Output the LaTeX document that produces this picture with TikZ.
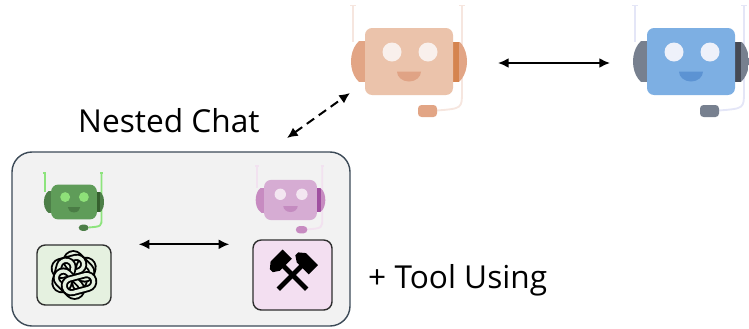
\documentclass[tikz,border=0pt]{standalone}
\usepackage{fontspec}
\setmainfont{Open Sans}
\usetikzlibrary{arrows.meta}
\usetikzlibrary{positioning}

% agent colours
\definecolor{peachHead}{HTML}{EBC3AB}
\definecolor{peachEar}{HTML}{E2A585}
\definecolor{peachStripe}{HTML}{D5844F}
\definecolor{peachEye}{HTML}{F9F0EC}
\definecolor{peachMouth}{HTML}{E0A385}
\definecolor{peachWire}{HTML}{F6E6DF}

\definecolor{azureHead}{HTML}{7DAFE3}
\definecolor{azureEar}{HTML}{77808F}
\definecolor{azureStripe}{HTML}{454A55}
\definecolor{azureEye}{HTML}{EEF1FA}
\definecolor{azureMouth}{HTML}{5C93D3}
\definecolor{azureWire}{HTML}{E4E6F7}

\definecolor{sageHead}{HTML}{5F9C59}
\definecolor{sageEar}{HTML}{4D7F48}
\definecolor{sageStripe}{HTML}{36602F}
\definecolor{sageEye}{HTML}{8EE079}
\definecolor{sageMouth}{HTML}{4A7C45}
\definecolor{sageWire}{HTML}{8DE47D}

\definecolor{lilacHead}{HTML}{D6ACD3}
\definecolor{lilacEar}{HTML}{C78BC1}
\definecolor{lilacStripe}{HTML}{A04FA0}
\definecolor{lilacEye}{HTML}{F3E6F1}
\definecolor{lilacMouth}{HTML}{C48BC0}
\definecolor{lilacWire}{HTML}{F2E2F0}

\definecolor{groupFill}{HTML}{F2F2F2}
\definecolor{groupLine}{HTML}{3C4A57}
\definecolor{gptFill}{HTML}{E5F1E0}
\definecolor{toolFill}{HTML}{F3DFF1}
\definecolor{boxLine}{HTML}{2E2E2E}

\tikzset{
	bigtext/.style={font=\fontsize{27}{30}\selectfont, inner sep=0pt},
	biarrow/.style={draw, {Latex[length=3.2mm,width=3mm]}-{Latex[length=3.2mm,width=3mm]}, line width=1.7pt},
	dasharrow/.style={biarrow, dash pattern=on 0.27cm off 0.17cm},
	group/.style={draw=groupLine, fill=groupFill, line width=1.2pt, rounded corners=0.6cm},
	llmbox/.style={draw=boxLine, line width=1.2pt, rounded corners=0.25cm},
	knot/.style={line width=1.6pt, double=gptFill, double distance=2.8pt},
	pics/robot/.style n args={6}{code={
		% headset wires
		\draw[#6, line width=1.6pt] (-59,-56) -- (-53,-56);
		\draw[#6, line width=1.6pt] (-56,-56) -- (-56,-20);
		\draw[#6, line width=1.6pt] (50,-56) -- (56,-56);
		\draw[#6, line width=1.6pt] (53,-56) -- (53,30) .. controls (53,47) .. (28,49);
		% ears
		\begin{scope}
			\clip (-60,-20) rectangle (60,20);
			\fill[#2] (-41,0) ellipse[x radius=17, y radius=24];
			\begin{scope}
				\clip (41,0) ellipse[x radius=17, y radius=24];
				\fill[#2] (30,-20) rectangle (60,20);
				\fill[#3] (42,-20) rectangle (50,20);
			\end{scope}
		\end{scope}
		% head
		\fill[#1, rounded corners=6pt] (-44,-33.5) rectangle (44,33.5);
		\fill[#4] (-17,-9.5) circle (9.5);
		\fill[#4] (19,-9.5) circle (9.5);
		\fill[#5] (-12,10) arc[start angle=180, end angle=0, x radius=12, y radius=10] -- cycle;
		% microphone
		\fill[#2, rounded corners=3pt] (9,43.5) rectangle (28,55.5);
		\coordinate (-e) at (58,1.5);
		\coordinate (-w) at (-58,1.5);
		\coordinate (-sw) at (-59,31.5);
	}}
}

\begin{document}
\begin{tikzpicture}[x=0.03cm, y=-0.03cm]
\useasboundingbox (0,0) rectangle (749,328);

% outer chat
\pic (peach) at (409,61.5)
	{robot={peachHead}{peachEar}{peachStripe}{peachEye}{peachMouth}{peachWire}};
\pic (azure) at (691,61.5)
	{robot={azureHead}{azureEar}{azureStripe}{azureEye}{azureMouth}{azureWire}};

\draw [biarrow, shorten <=0.93cm, shorten >=0.69cm] (peach-e) -- (azure-w);

\node[bigtext, anchor=base west] (nested) at (78,132) {Nested Chat};
\coordinate (nest) at (287,138);
\draw [dasharrow] (nest) -- (peach-sw);

% inner chat
\node[group, minimum width=10.14cm, minimum height=5.22cm] (group) at (181,239) {};

\pic[scale=0.52] (sage) at (74,202)
	{robot={sageHead}{sageEar}{sageStripe}{sageEye}{sageMouth}{sageWire}};
\pic[scale=0.6] (lilac) at (290.5,200)
	{robot={lilacHead}{lilacEar}{lilacStripe}{lilacEye}{lilacMouth}{lilacWire}};

\node[llmbox, fill=gptFill, minimum width=2.22cm, minimum height=1.8cm] (gpt) at (74,275) {};
\node[llmbox, fill=toolFill, minimum width=2.37cm, minimum height=2.1cm] (tool) at (292.5,275) {};

\draw [biarrow, shorten <=0.81cm, shorten >=0.69cm] (gpt.north east) -- (gpt.north east -| tool.west);

% knot logo
\foreach \a in {0,60,...,300}
	\draw[knot, shift={(gpt.center)}, rotate=\a, shift={(10,0)}, rotate=75]
		(-8,-7) -- (8,-7) arc[start angle=-90, end angle=90, radius=7]
		-- (-8,7) arc[start angle=90, end angle=270, radius=7] -- cycle;

% crossed hammers
\foreach \r in {45,-45} {
	\begin{scope}[shift={(tool.center)}, rotate=\r]
		\draw[line width=4.2pt] (0,-14) -- (0,20);
		\fill (-12,-20) -- (-6,-25) -- (11,-25) -- (11,-12) -- (-6,-12) -- (-12,-16) -- cycle;
	\end{scope}
}

\node[bigtext, anchor=base west] (tooluse) at (368,288) {+ Tool Using};

\end{tikzpicture}
\end{document}
